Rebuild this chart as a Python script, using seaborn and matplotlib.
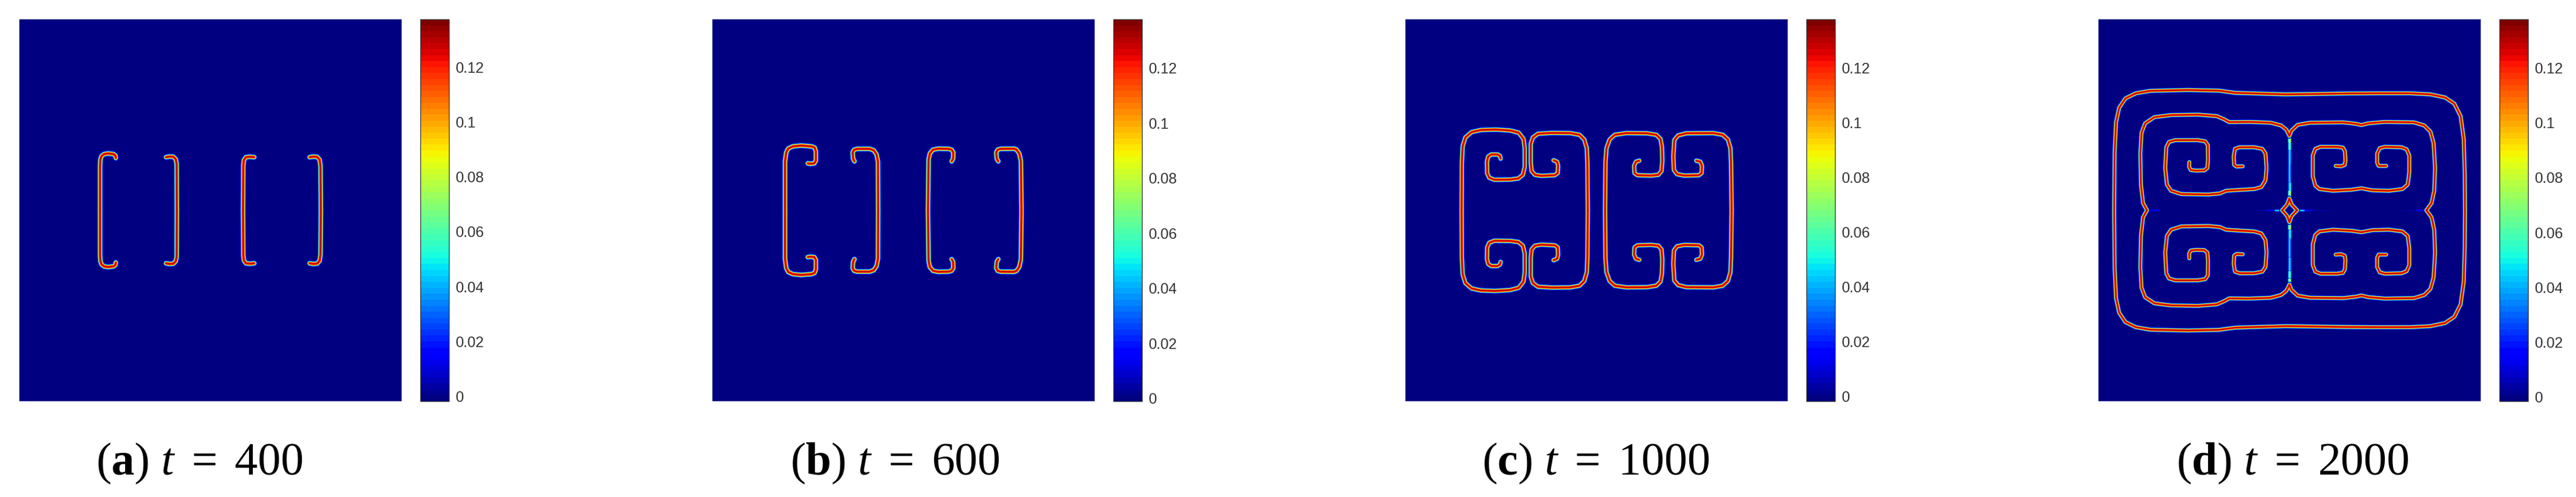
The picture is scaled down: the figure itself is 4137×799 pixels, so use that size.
import matplotlib
matplotlib.use("Agg")
import matplotlib.pyplot as plt
import seaborn as sns
import numpy as np
import pandas as pd

sns.set_style("white")
plt.rcParams['mathtext.fontset'] = 'custom'
plt.rcParams['mathtext.rm'] = 'Liberation Serif'
plt.rcParams['mathtext.it'] = 'Liberation Serif:italic'
plt.rcParams['mathtext.bf'] = 'Liberation Serif:bold'

captions = [r'($\mathbf{a}$) $t\ =\ 400$', r'($\mathbf{b}$) $t\ =\ 600$',
            r'($\mathbf{c}$) $t\ =\ 1000$', r'($\mathbf{d}$) $t\ =\ 2000$']
cbar_ticks = [0, 0.02, 0.04, 0.06, 0.08, 0.1, 0.12]
cbar_labels = ['0', '0.02', '0.04', '0.06', '0.08', '0.1', '0.12']
vmins = [-0.0017, -0.001, -0.0017, -0.0014]
vmaxs = [0.1375, 0.1378, 0.1379, 0.1378]

# interface cross section: value level, width in px
band_values = [0.006, 0.016, 0.03, 0.05, 0.07, 0.09, 0.105, 0.12, 0.13]
band_widths = [10.5, 8.8, 7.8, 7.0, 6.2, 5.4, 4.6, 3.6, 1.6]
panel_width_scale = [1.0, 1.0, 0.95, 0.85]

# upper half of each curve, in grid cells (1 cell = 1 px),
# the lower half is the mirror image about y = 307
curves_a = [
    [(155, 223), (154.3, 219), (151.3, 216.7), (142.3, 215.7), (136.3, 216.7), (132.3, 219.7),
     (130.3, 225), (129.7, 235.7), (129.7, 307)],
    [(235.7, 221.7), (240.7, 220.7), (247.3, 221), (251.3, 225), (252.7, 232.3), (253, 307)],
    [(377.3, 221.7), (370.7, 221), (364, 221.7), (360.7, 226.3), (359.7, 235.7), (359.3, 307)],
    [(466.3, 221.7), (472.3, 220.7), (478.3, 221.3), (482.3, 225.7), (483.7, 235.7), (484.3, 307)],
]
curves_b = [
    [(153.3, 231.7), (157.7, 232.3), (163.7, 231.7), (166.3, 227.3), (166.3, 212.3), (164.3, 206.3),
     (159.3, 204.3), (142.7, 203), (129.3, 204.3), (122, 207.7), (118.7, 214), (116.7, 229), (116.7, 307)],
    [(228.3, 228.3), (226, 224), (225.3, 214), (227.7, 209.7), (232.7, 208.3), (252.7, 208.3),
     (259.3, 210.7), (263.7, 217.3), (266, 229), (266.3, 307)],
    [(384.3, 228.3), (386.7, 224), (387, 214), (384.3, 209.7), (379.3, 208.3), (362.7, 208),
     (354.3, 209.7), (349.3, 215.7), (347.3, 225.7), (346.3, 307)],
    [(459.3, 228.3), (456.7, 224), (456, 214), (458.3, 209.7), (462.7, 208.3), (484.3, 208),
     (488.5, 209.5), (493, 216), (495.5, 228), (496.5, 307)],
]
curves_c = [
    [(153, 224), (152, 219.7), (148, 217.3), (138, 217.3), (133, 220.7), (131, 229), (131.3, 247.3),
     (134.7, 254.7), (143, 258), (168, 257.7), (181.3, 256), (188.7, 250), (191.7, 237.3), (191.7, 207.3),
     (189.7, 192.3), (182, 182.3), (168, 178.7), (144.7, 177.3), (121.3, 178), (106.3, 181.3), (96.3, 190),
     (92, 204), (90.7, 230.7), (90.3, 307)],
    [(238, 226.7), (243.7, 229), (245.3, 235.7), (244.7, 247.3), (239.7, 250.7), (218, 251.7), (208, 250),
     (202.7, 244), (201.3, 230), (201.3, 200.7), (204.7, 190), (213, 184), (234.7, 182.7), (264.7, 183),
     (279.7, 185.7), (287.3, 193.3), (291.3, 207.3), (292.3, 230.7), (293, 307)],
    [(375.7, 227.3), (370.3, 229), (367.3, 235.7), (368, 247.3), (373, 250.7), (394.7, 251.3), (406.3, 250),
     (411.3, 244), (412.7, 227.3), (412, 205), (409.7, 192.3), (403, 185.7), (388, 183.3), (354.7, 183),
     (336.3, 185.7), (328, 193.3), (323, 207.3), (321.3, 230.7), (320.7, 307)],
    [(467.3, 227.3), (473.7, 229), (476.3, 235.7), (475.7, 247.3), (471.3, 250.7), (448, 251.3), (436.3, 249),
     (431.3, 242.3), (430.3, 220.7), (432, 194), (438, 186.7), (451.3, 183.3), (494.7, 183), (509.7, 185.7),
     (518, 193.3), (522, 207.3), (523, 230.7), (524, 307)],
]
curves_d = [
    # outer ring
    [(25.3, 307), (26, 215.7), (28.3, 165.7), (33.3, 142.3), (43.3, 127.3), (60, 119), (83.3, 115),
     (143.3, 113.7), (193.3, 114.7), (220, 118.3), (276.7, 120), (300, 120.7), (333.3, 120.3), (400, 119.3),
     (450, 119), (500, 119), (533.3, 120.7), (556.7, 125.7), (571.7, 135.7), (581.7, 155.7), (586.7, 192.3),
     (588.3, 249), (588.7, 307)],
    # inner ring, left and right
    [(78, 307), (71.7, 295.7), (68.3, 265.7), (67.3, 215.7), (69.3, 182.3), (75, 167.3), (90, 157.3),
     (116.7, 154), (160, 153.3), (190, 155.7), (201.7, 160.7), (210, 165.3), (243.3, 165), (276.7, 166.3),
     (293.3, 170.7), (301.7, 177.3), (306.7, 187.3)],
    [(306.7, 187.3), (310, 179), (320, 169.7), (340, 166.3), (393.3, 165.7), (413.3, 168), (422.3, 170),
     (433.3, 167.3), (460, 165), (506.7, 165.7), (523.3, 170.7), (533.3, 180.7), (538.3, 199), (540.7, 239),
     (539.3, 275.7), (535, 295.7), (526.7, 307)],
    # spirals
    [(146, 229.7), (145.7, 237.3), (148.3, 242.3), (156.7, 243.3), (170, 243), (175, 239), (176, 225.7),
     (175.7, 202.3), (171.7, 196.3), (160, 194.3), (123.3, 194.3), (113.3, 197.3), (109, 205.7), (107.3, 239),
     (110, 265.7), (116.7, 275.7), (133.3, 281), (176.7, 281.7), (195, 280), (205, 275.7), (226.7, 274.3),
     (250, 273), (261.7, 269.7), (268.3, 259), (270, 239), (268.3, 215.7), (263.3, 208.3), (250, 205.7),
     (226.7, 205.7), (219.3, 208.3), (217.3, 220.7), (218, 234), (221.7, 236.7), (231.7, 236.3)],
    [(381, 235.7), (390, 236.3), (395.7, 234), (396.7, 227.3), (396, 212.3), (392.7, 206.3), (383.3, 205),
     (356.7, 205), (348.3, 208.3), (344.3, 219), (344.3, 252.3), (348.3, 267.3), (355, 273), (376.7, 275.7),
     (406.7, 274), (422.3, 271.7), (440, 275), (466.7, 275.7), (488.3, 273), (496.7, 265.7), (499.3, 245.7),
     (499.3, 219), (495, 209), (486.7, 205.7), (460, 205), (451.7, 207.3), (447.7, 215.7), (447.7, 230.7),
     (450, 235.7), (462.3, 235.7)],
    # diamond at the centre
    [(306.7, 288), (303, 298), (295, 307)],
    [(306.7, 288), (310.5, 298), (319, 307)],
]
# faint seams between the fronts of panel d: peak value, width in px, then points
seams_d = [
    (0.10, 5.5, [(306.7, 187), (306.7, 198)]),
    (0.075, 6.0, [(306.7, 198), (306.7, 210)]),
    (0.055, 6.0, [(306.7, 210), (306.7, 232)]),
    (0.05, 6.0, [(306.7, 232), (306.7, 262)]),
    (0.065, 6.0, [(306.7, 262), (306.7, 276)]),
    (0.10, 5.5, [(306.7, 276), (306.7, 288)]),
    (0.02, 3.5, [(78, 307), (98, 307)]),
    (0.008, 2.0, [(248, 307), (270, 307)]),
    (0.025, 3.0, [(270, 307), (283, 307)]),
    (0.05, 4.0, [(283, 307), (295, 307)]),
    (0.05, 4.0, [(319, 307), (331, 307)]),
    (0.025, 3.0, [(331, 307), (344, 307)]),
    (0.008, 2.0, [(344, 307), (366, 307)]),
    (0.008, 2.0, [(492, 307), (510, 307)]),
    (0.025, 3.0, [(510, 307), (526.7, 307)]),
]
panel_curves = [curves_a, curves_b, curves_c, curves_d]
panel_seams = [[], [], [], seams_d]

# panel positions in pixels of the page
W, H = 4137, 799
grid_size = 614
ax_left = [31, 1144, 2257, 3370]
cbar_left = [675, 1788, 2901, 4014]
cbar_width = 46
ax_top, ax_bottom = 31, 645
caption_x = [320, 1437, 2563, 3682]
caption_y = 745

jet64 = plt.get_cmap('jet', 64)


def to_frame(curves, mirror_y=307):
    rows = []
    for i, pts in enumerate(curves):
        for x, y in pts:
            rows.append((2 * i, x, y))
        for x, y in pts:
            rows.append((2 * i + 1, x, 2 * mirror_y - y))
    return pd.DataFrame(rows, columns=['curve', 'x', 'y'])


fig = plt.figure(figsize=(W / 100, H / 100), dpi=100)
for p in range(4):
    ax = fig.add_axes([ax_left[p] / W, 1 - ax_bottom / H, grid_size / W, (ax_bottom - ax_top) / H])
    cax = fig.add_axes([cbar_left[p] / W, 1 - ax_bottom / H, cbar_width / W, (ax_bottom - ax_top) / H])
    sns.heatmap(np.zeros((grid_size, grid_size)), ax=ax, cbar_ax=cax, cmap=jet64, vmin=vmins[p], vmax=vmaxs[p],
                xticklabels=False, yticklabels=False, rasterized=True, cbar_kws={'ticks': cbar_ticks})
    cbar = ax.collections[0].colorbar
    norm = plt.Normalize(vmins[p], vmaxs[p])
    front = to_frame(panel_curves[p])
    scale = panel_width_scale[p]

    # seams first: each one narrows towards its own peak value
    for peak, width, pts in panel_seams[p]:
        seam = to_frame([pts])
        for v in band_values:
            if v > peak:
                continue
            sns.lineplot(data=seam, x='x', y='y', units='curve', estimator=None, sort=False, ax=ax, legend=False,
                         color=jet64(norm(v)), linewidth=width * (1.3 - v / peak) * 0.72, solid_capstyle='butt')

    for v, w in zip(band_values, band_widths):
        sns.lineplot(data=front, x='x', y='y', units='curve', estimator=None, sort=False, ax=ax, legend=False,
                     color=jet64(norm(v)), linewidth=w * scale * 0.72,
                     solid_capstyle='round', solid_joinstyle='round')

    ax.set(xlim=(0, grid_size), ylim=(grid_size, 0), xlabel='', ylabel='', xticks=[], yticks=[])

    cbar.set_ticklabels(cbar_labels)
    cax.tick_params(axis='y', direction='in', length=5, width=1, color='#262626', labelcolor='#333333',
                    labelsize=17, pad=7, right=True, left=False)
    for label in cax.get_yticklabels():
        label.set_family('Liberation Sans')
    cbar.outline.set_edgecolor('#404040')
    cbar.outline.set_linewidth(1)
    cbar.outline.set_visible(True)

    fig.text(caption_x[p] / W, 1 - caption_y / H, captions[p], family='Liberation Serif', fontsize=53,
             ha='center', va='center', color='black')

fig.savefig('out.png', dpi=100)
